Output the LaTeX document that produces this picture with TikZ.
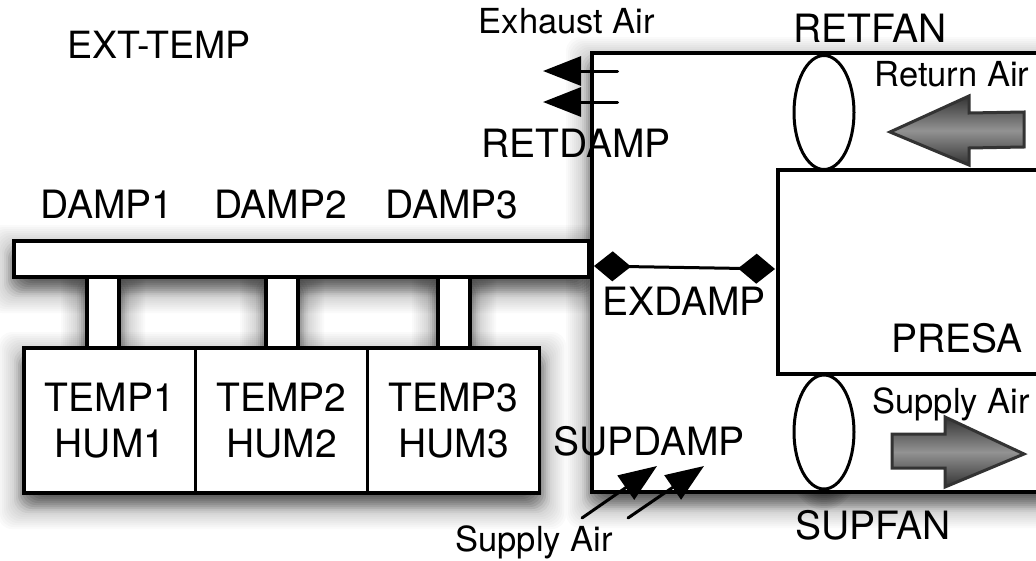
\documentclass[tikz,border=0pt]{standalone}
\usepackage{fontspec}
\setmainfont{TeX Gyre Heros}
\usetikzlibrary{arrows.meta,shapes.geometric}
\definecolor{blockedge}{HTML}{333333}
\tikzset{
  big/.style={anchor=base,inner sep=0pt,font=\fontsize{39}{46}\selectfont},
  small/.style={anchor=base,inner sep=0pt,font=\fontsize{34.5}{40}\selectfont},
  boxnode/.style={draw=black,fill=white,line width=3.5pt,inner sep=0pt,minimum width=#1},
  sensor/.style={boxnode=172pt,minimum height=145pt,align=center,font=\fontsize{39}{46}\selectfont},
  fan/.style={ellipse,draw=black,fill=white,line width=3pt,inner sep=0pt,minimum width=60pt,minimum height=114pt},
  flow/.style={line width=3pt,line cap=round,-{Triangle[length=38pt,width=29pt]}},
  damper/.style={line width=3pt,{Diamond[length=37pt,width=30pt]}-{Diamond[length=37pt,width=30pt]}},
  block/.style={draw=blockedge,line width=3pt,line join=miter,top color=#1,bottom color=#1,middle color=gray!85},
}
\newcommand{\softbox}[4]{%
  \foreach \e in {26,24,...,-10}{%
    \pgfmathsetmacro{\op}{\e>=12?.02:(\e>=8?.05:.085)}%
    \fill[black,opacity=\op,rounded corners=14pt]
      ({#1-\e},{#2-\e+10}) rectangle ({#3+\e},{#4+\e+10});}}
\newcommand{\softfan}[2]{%
  \foreach \e in {12,10,...,-8}{%
    \fill[black,opacity=.05] (#1,{#2+9}) ellipse ({30+\e} and {57+\e});}}
\begin{document}
\begin{tikzpicture}[x=1pt,y=-1pt]
\useasboundingbox (0,0) rectangle (1036,560);
\clip (0,0) rectangle (1036,560);
\fill[white] (0,0) rectangle (1036,560);
% soft shadows
\softbox{592}{53}{1080}{492}
\softfan{824}{432}
\softbox{14}{241}{589}{277}
\softbox{87}{277}{119}{348}
\softbox{266}{277}{298}{348}
\softbox{438}{277}{470}{348}
\softbox{24}{348}{540}{493}
% air handling frame
\node[boxnode=500pt,minimum height=439pt] (frame) at (842,272.5) {};
\node[boxnode=300pt,minimum height=204pt] (presabox) at (928,272) {};
\node[fan] (retfanshape) at (824,112.5) {};
\node[fan] (supfanshape) at (824,432) {};
% mixing box
\node[boxnode=32pt,minimum height=74pt] (stema) at (103,312) {};
\node[boxnode=32pt,minimum height=74pt] (stemb) at (282,312) {};
\node[boxnode=32pt,minimum height=74pt] (stemc) at (454,312) {};
\node[boxnode=575pt,minimum height=36pt] (bar) at (301.5,259) {};
\node[sensor] (boxa) at (110,420.5) {TEMP1\\HUM1};
\node[sensor] (boxb) at (281.5,420.5) {TEMP2\\HUM2};
\node[sensor] (boxc) at (453.5,420.5) {TEMP3\\HUM3};
% block arrows
\filldraw[block=blockedge] (890,132) -- (969,96) -- (969,113) -- (1024,112) -- (1024,147) -- (969,148) -- (969,165) -- cycle;
\filldraw[block=blockedge] (892,434) -- (945,434) -- (945,417) -- (1024,454) -- (945,487) -- (945,468) -- (892,468) -- cycle;
% flow arrows
\coordinate (exa) at (617.5,71);
\coordinate (exatip) at (543,71);
\coordinate (exb) at (617.5,102);
\coordinate (exbtip) at (543,102);
\coordinate (sua) at (582,518);
\coordinate (suatip) at (657,466);
\coordinate (sub) at (628,518);
\coordinate (subtip) at (704,466);
\coordinate (dla) at (594,266);
\coordinate (dlb) at (775,269);
\draw[flow] (exa) -- (exatip);
\draw[flow] (exb) -- (exbtip);
\draw[flow] (sua) -- (suatip);
\draw[flow] (sub) -- (subtip);
\draw[damper] (dla) -- (dlb);
% labels
\node[big,font=\fontsize{37.5}{46}\selectfont] (exttemp) at (159,58) {EXT-TEMP};
\node[small] (exhaust) at (567,33) {Exhaust Air};
\node[big] (retfan) at (870,42) {RETFAN};
\node[small] (retair) at (952,86) {Return Air};
\node[big] (retdamp) at (576,157) {RETDAMP};
\node[big] (damp1) at (107,218) {DAMP1};
\node[big] (damp2) at (280.5,218) {DAMP2};
\node[big] (damp3) at (452,218) {DAMP3};
\node[big] (exdamp) at (684,315) {EXDAMP};
\node[big] (presa) at (957,352) {PRESA};
\node[small] (supair) at (951,413) {Supply Air};
\node[big] (supdamp) at (649,455) {SUPDAMP};
\node[big] (supfan) at (873,539) {SUPFAN};
\node[small] (supairb) at (534,551) {Supply Air};
\end{tikzpicture}
\end{document}
